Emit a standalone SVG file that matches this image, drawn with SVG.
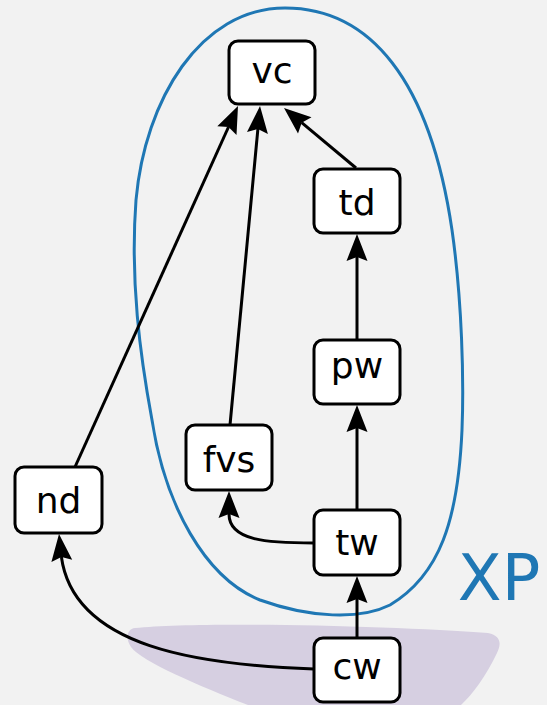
<svg xmlns="http://www.w3.org/2000/svg" width="547" height="705" viewBox="0 0 547 705">
  <defs>
    <style>
      .node rect { fill: #ffffff; stroke: #000000; stroke-width: 3; }
      .node text { font-family: "DejaVu Sans", sans-serif; font-size: 36px; fill: #000000; text-anchor: middle; }
      .edge path { fill: none; stroke: #000000; stroke-width: 3; }
      .edge polygon { fill: #000000; stroke: none; }
    </style>
  </defs>

  <rect x="0" y="0" width="547" height="705" fill="#f2f2f2"/>

  <!-- shaded region at the bottom -->
  <path id="region" d="M135,628 C200,621 400,626 488,633 C502,636 501,645 497,653 C486,676 472,695 461,705 L248,705 C200,686 142,662 131,647 C125,638 127,629 135,628 Z" fill="#d6cfe1"/>

  <!-- XP cluster outline -->
  <g id="cluster-xp">
    <path d="M285,8 C370,8 430,80 452,230 C462,300 464,380 462,430 C458,520 440,575 390,605 C360,620 310,618 260,600 C205,578 165,505 152,420 C140,355 130,280 136,200 C145,100 200,8 285,8 Z" fill="none" stroke="#1f77b4" stroke-width="3"/>
    <text x="499" y="600" font-family="DejaVu Sans, sans-serif" font-size="64" fill="#1f77b4" text-anchor="middle">XP</text>
  </g>

  <!-- connectors: each a stroke plus a notched arrowhead -->
  <g id="edges">
    <g class="edge" id="nd-vc">
      <path d="M75,467 L228.5,127"/>
      <polygon points="238,106 236.5,134.9 228.5,127 217.3,126.3"/>
    </g>
    <g class="edge" id="fvs-vc">
      <path d="M230,425 L257.9,128.9"/>
      <polygon points="260,106 267.9,133.9 257.9,128.9 247,131.9"/>
    </g>
    <g class="edge" id="td-vc">
      <path d="M356,168 L301.7,122.7"/>
      <polygon points="284,108 311.5,117.2 301.7,122.7 298,133.4"/>
    </g>
    <g class="edge" id="pw-td">
      <path d="M357,340 L357,257"/>
      <polygon points="357,234 367.5,261 357,257 346.5,261"/>
    </g>
    <g class="edge" id="tw-pw">
      <path d="M357,510 L357,428"/>
      <polygon points="357,405 367.5,432 357,428 346.5,432"/>
    </g>
    <g class="edge" id="tw-fvs">
      <path d="M314,543 C268,543 229,541 229,514"/>
      <polygon points="229,491 239.5,518 229,514 218.5,518"/>
    </g>
    <g class="edge" id="cw-tw">
      <path d="M357,638 L357,599"/>
      <polygon points="357,576 367.5,603 357,599 346.5,603"/>
    </g>
    <g class="edge" id="cw-nd">
      <path d="M314,669 C200,665 74,648 61.4,557"/>
      <polygon points="59,534 72.2,559.8 61.4,556.9 51.4,561.9"/>
    </g>
  </g>

  <!-- nodes -->
  <g id="vc" class="node"><rect x="229" y="41" width="86" height="63" rx="9"/><text x="272" y="83">vc</text></g>
  <g id="td" class="node"><rect x="314" y="169" width="86" height="64" rx="9"/><text x="357" y="215">td</text></g>
  <g id="pw" class="node"><rect x="314" y="340" width="86" height="64" rx="9"/><text x="357" y="378">pw</text></g>
  <g id="fvs" class="node"><rect x="186" y="425" width="86" height="65" rx="9"/><text x="229" y="472">fvs</text></g>
  <g id="nd" class="node"><rect x="15" y="467" width="87" height="66" rx="9"/><text x="58.5" y="513">nd</text></g>
  <g id="tw" class="node"><rect x="314" y="510" width="86" height="65" rx="9"/><text x="357" y="555">tw</text></g>
  <g id="cw" class="node"><rect x="314" y="638" width="86" height="64" rx="9"/><text x="357" y="679">cw</text></g>
</svg>
